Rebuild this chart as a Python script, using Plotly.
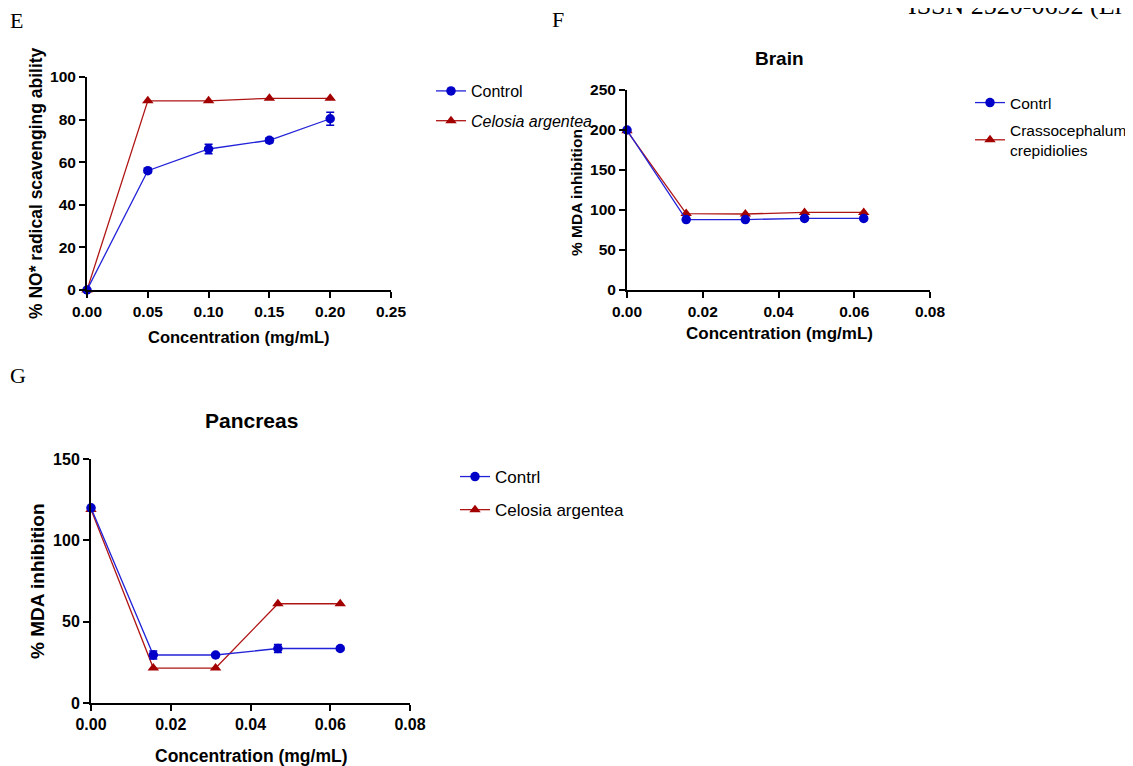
import plotly.graph_objects as go

# browser window is 1133x766 and the page body keeps its default 8px margin,
# so the figure is sized to fill exactly the remaining area
PAGE_W, PAGE_H = 1133, 766
OFF = 8
W, H = PAGE_W - OFF, PAGE_H - OFF

# ---------------- data ----------------
conc_E = [0.0, 0.05, 0.10, 0.15, 0.20]
E_control = [0.0, 56.0, 66.2, 70.3, 80.4]
E_control_err = [0.5, 1.0, 2.2, 1.2, 3.0]
E_celosia = [0.0, 88.8, 88.8, 90.0, 90.0]

conc_FG = [0.0, 0.015625, 0.03125, 0.046875, 0.0625]
F_control = [200.0, 88.0, 88.0, 89.5, 89.5]
F_control_err = [1.0, 1.0, 1.0, 1.0, 1.0]
F_crasso = [199.0, 95.5, 95.0, 97.0, 97.0]

G_control = [120.0, 29.5, 29.5, 33.5, 33.5]
G_control_err = [1.0, 2.5, 1.0, 2.5, 1.0]
G_celosia = [119.0, 21.5, 21.5, 61.0, 61.0]

E_xticks = [0, 0.05, 0.10, 0.15, 0.20, 0.25]
E_yticks = [0, 20, 40, 60, 80, 100]
F_xticks = [0, 0.02, 0.04, 0.06, 0.08]
F_yticks = [0, 50, 100, 150, 200, 250]
G_xticks = [0, 0.02, 0.04, 0.06, 0.08]
G_yticks = [0, 50, 100, 150]

BLUE = "#0000C8"
BLUE_LINE = "#2222D8"
RED = "#A30000"
RED_LINE = "#B01515"
SANS = "Liberation Sans"
SERIF = "Liberation Serif"


def px_x(p):
    return (p - OFF) / W


def px_y(p):
    return 1 - (p - OFF) / H


fig = go.Figure()


def add_pair(xs, ctrl, ctrl_err, other, ctrl_name, other_name, xa, ya, legend):
    fig.add_trace(go.Scatter(
        x=xs, y=other, name=other_name, mode="lines+markers",
        line=dict(color=RED_LINE, width=1.3),
        marker=dict(symbol="triangle-up", size=10, color=RED),
        xaxis=xa, yaxis=ya, legend=legend, legendgroup=legend + "b",
        legendrank=2, cliponaxis=False))
    fig.add_trace(go.Scatter(
        x=xs, y=ctrl, name=ctrl_name, mode="lines+markers",
        line=dict(color=BLUE_LINE, width=1.3),
        marker=dict(symbol="circle", size=9.5, color=BLUE),
        error_y=dict(type="data", array=ctrl_err, color=BLUE, thickness=1.5, width=4),
        xaxis=xa, yaxis=ya, legend=legend, legendgroup=legend + "a",
        legendrank=1, cliponaxis=False))


add_pair(conc_E, E_control, E_control_err, E_celosia,
         "Control", "<i>Celosia argentea</i>", "x", "y", "legend")
add_pair(conc_FG, F_control, F_control_err, F_crasso,
         "Contrl", "Crassocephalum<br>crepidiolies", "x2", "y2", "legend2")
add_pair(conc_FG, G_control, G_control_err, G_celosia,
         "Contrl", "Celosia argentea", "x3", "y3", "legend3")


def axis(domain, rng, ticks, fmt, size):
    return dict(
        domain=domain, range=rng, tickvals=ticks, tickformat=fmt,
        showline=True, linecolor="black", linewidth=2,
        ticks="outside", ticklen=6, tickwidth=2, tickcolor="black",
        showgrid=False, zeroline=False, fixedrange=True, automargin=False,
        tickfont=dict(family=SANS, size=size, color="black", weight="bold"),
    )


# pixel boxes (page pixels) of the three plotting areas
E_box = (87, 391, 77, 290)
F_box = (627, 930, 90, 290)
G_box = (91, 410, 459, 703)


def dom(box):
    x0, x1, y0, y1 = box
    return [px_x(x0), px_x(x1)], [px_y(y1), px_y(y0)]


Ex, Ey = dom(E_box)
Fx, Fy = dom(F_box)
Gx, Gy = dom(G_box)

fig.update_layout(
    width=W, height=H,
    margin=dict(l=0, r=0, t=0, b=0, autoexpand=False),
    paper_bgcolor="white", plot_bgcolor="white",
    xaxis=dict(axis(Ex, [0, 0.25], E_xticks, ".2f", 15.5), anchor="y"),
    yaxis=dict(axis(Ey, [0, 100], E_yticks, "d", 15.5), anchor="x"),
    xaxis2=dict(axis(Fx, [0, 0.08], F_xticks, ".2f", 15.5), anchor="y2"),
    yaxis2=dict(axis(Fy, [0, 250], F_yticks, "d", 15.5), anchor="x2"),
    xaxis3=dict(axis(Gx, [0, 0.08], G_xticks, ".2f", 16), anchor="y3"),
    yaxis3=dict(axis(Gy, [0, 150], G_yticks, "d", 16), anchor="x3"),
    legend=dict(x=px_x(431), y=px_y(74), xanchor="left", yanchor="top",
                font=dict(family=SANS, size=16, color="black"),
                traceorder="grouped", tracegroupgap=6, bgcolor="rgba(0,0,0,0)"),
    legend2=dict(x=px_x(970), y=px_y(86), xanchor="left", yanchor="top",
                 font=dict(family=SANS, size=15.5, color="black"),
                 traceorder="grouped", tracegroupgap=4, bgcolor="rgba(0,0,0,0)"),
    legend3=dict(x=px_x(455), y=px_y(459), xanchor="left", yanchor="top",
                 font=dict(family=SANS, size=17, color="black"),
                 traceorder="grouped", tracegroupgap=8, bgcolor="rgba(0,0,0,0)"),
    showlegend=True,
)


def text(t, x, y, size, family=SANS, bold=False, angle=0, xanchor="center", yanchor="middle"):
    fig.add_annotation(
        text=t, x=px_x(x), y=px_y(y), xref="paper", yref="paper",
        showarrow=False, textangle=angle, xanchor=xanchor, yanchor=yanchor,
        font=dict(family=family, size=size, color="black",
                  weight="bold" if bold else "normal"))


# panel letters
text("E", 8, 20, 22, SERIF, xanchor="left")
text("F", 550, 19, 22, SERIF, xanchor="left")
text("G", 8, 375, 22, SERIF, xanchor="left")
# header text cut at the top edge (only the lower part of the glyphs shows)
text("ISSN 2520-0692 (El", 906, 22, 26, SERIF, xanchor="left", yanchor="bottom")

# titles
text("Brain", 779, 58, 19, bold=True)
text("Pancreas", 251, 420, 21, bold=True)

# axis titles
text("Concentration (mg/mL)", 239, 337, 16.5, bold=True)
text("% NO* radical scavenging ability", 36, 183, 17.5, bold=True, angle=-90)
text("Concentration (mg/mL)", 779, 333, 17, bold=True)
text("% MDA inhibition", 576, 193, 15.5, bold=True, angle=-90)
text("Concentration (mg/mL)", 251, 756, 17.5, bold=True)
text("% MDA inhibition", 37, 581, 19, bold=True, angle=-90)

fig.write_html("out.html")
